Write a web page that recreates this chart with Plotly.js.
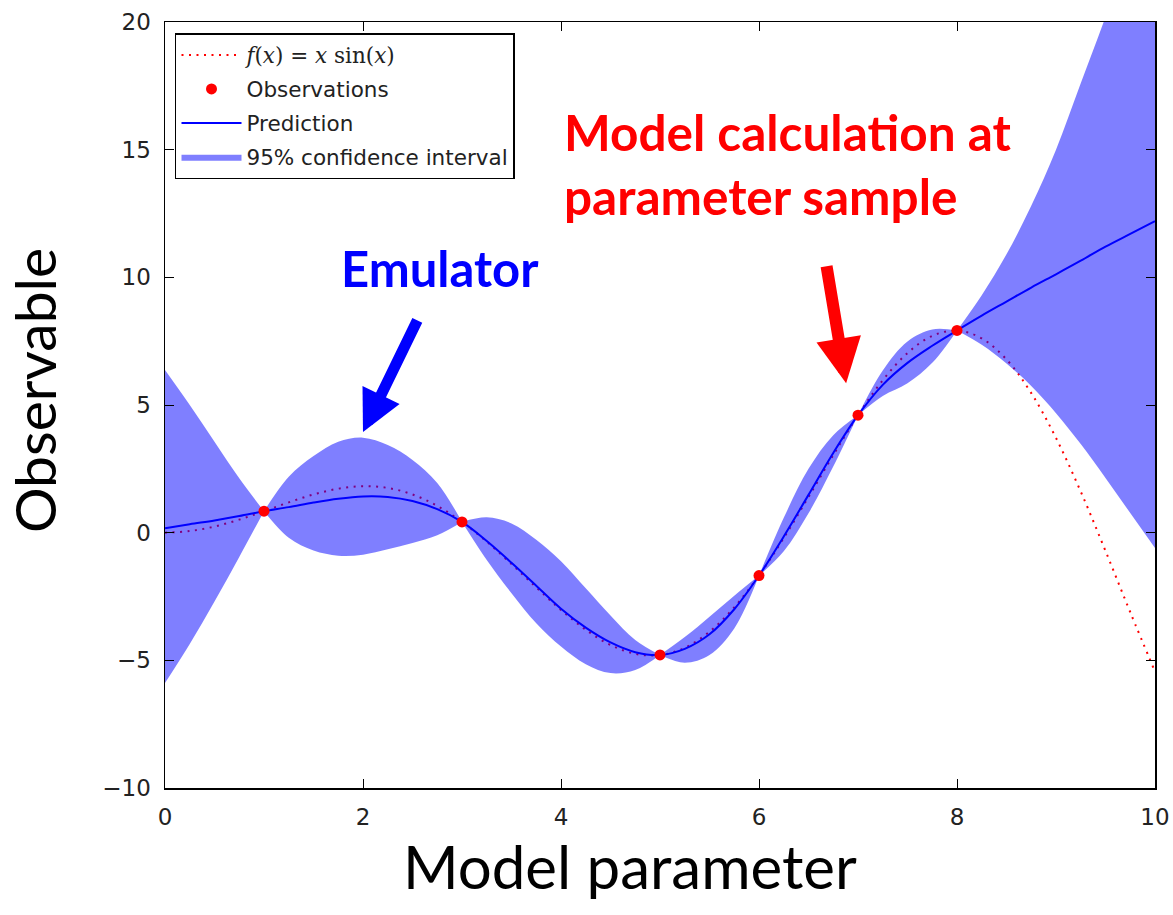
<!DOCTYPE html>
<html>
<head>
<meta charset="utf-8">
<script src="https://cdn.plot.ly/plotly-3.0.1.min.js"></script>
<style>html,body{margin:0;padding:0;background:#fff;}#chart{width:1173px;height:915px;}</style>
</head>
<body>
<div id="chart"></div>
<script>
// ---- data ----
const xGrid = [0,0.25,0.5,0.75,1,1.25,1.5,1.75,2,2.25,2.5,2.75,3,3.25,3.5,3.75,4,4.25,4.5,4.75,5,5.25,5.5,5.75,6,6.25,6.5,6.75,7,7.25,7.5,7.75,8,8.25,8.5,8.75,9,9.25,9.5,9.75,10];
const trueF = [0,0.062,0.24,0.511,0.841,1.186,1.496,1.722,1.819,1.751,1.496,1.05,0.423,-0.352,-1.228,-2.143,-3.027,-3.804,-4.399,-4.747,-4.795,-4.509,-3.88,-2.923,-1.676,-0.208,1.398,3.038,4.599,5.969,7.035,7.708,7.915,7.607,6.787,5.466,3.709,1.608,-0.714,-3.115,-5.44];
const prediction = [0.17,0.33,0.48,0.65,0.84,1.0,1.18,1.33,1.42,1.40,1.24,0.92,0.42,-0.33,-1.18,-2.08,-2.98,-3.72,-4.3,-4.68,-4.79,-4.55,-3.98,-3.0,-1.68,-0.15,1.48,3.12,4.6,5.79,6.65,7.32,7.92,8.5,9.05,9.6,10.12,10.65,11.2,11.7,12.2];
const upperCI = [6.37,5.0,3.56,2.13,0.84,2.19,3.0,3.56,3.72,3.43,2.85,1.95,0.42,0.6,0.36,-0.28,-1.12,-2.18,-3.24,-4.2,-4.79,-4.09,-3.29,-2.47,-1.68,0.58,2.5,3.82,4.6,6.35,7.49,7.96,7.92,9.3,10.9,12.8,15.0,17.6,20.2,23.0,25.9];
const lowerCI = [-5.89,-4.36,-2.7,-0.95,0.84,-0.2,-0.7,-0.9,-0.86,-0.65,-0.4,-0.1,0.42,-1.07,-2.37,-3.55,-4.46,-5.15,-5.5,-5.38,-4.79,-5.09,-4.79,-3.75,-1.68,-0.73,0.76,2.59,4.6,5.35,5.85,6.65,7.92,7.36,6.63,5.74,4.68,3.47,2.14,0.77,-0.6];
const obsX = [1,3,5,6,7,8];
const obsY = [0.84,0.42,-4.79,-1.68,4.6,7.92];
const xTicks = [0,2,4,6,8,10];
const yTicks = [-10,-5,0,5,10,15,20];

const traces = [
  {x: xGrid, y: trueF, type: 'scatter', mode: 'lines', name: '<span style="font-family:\'DejaVu Serif\'"><i>f</i>(<i>x</i>) = <i>x</i> sin(<i>x</i>)</span>',
   line: {color: '#ff0000', width: 2, dash: '2px,5.5px', shape: 'spline'}, legendgroup: 'a', legendrank: 1},
  {x: xGrid, y: prediction, type: 'scatter', mode: 'lines', name: 'Prediction',
   line: {color: '#0000ff', width: 2, shape: 'spline'}, legendgroup: 'c', legendrank: 3}
];

// confidence band: split at the observation points so the band pinches sharply there
const breaks = [0].concat(obsX.map(v => xGrid.indexOf(v)), [xGrid.length - 1]);
for (let s = 0; s < breaks.length - 1; s++) {
  const a = breaks[s], b = breaks[s + 1] + 1;
  traces.push({x: xGrid.slice(a, b), y: lowerCI.slice(a, b), type: 'scatter', mode: 'lines',
    showlegend: false, hoverinfo: 'skip', line: {width: 0, shape: 'spline'}, legendgroup: 'd'});
  traces.push({x: xGrid.slice(a, b), y: upperCI.slice(a, b), type: 'scatter', mode: 'lines',
    name: '95% confidence interval', showlegend: s === 0, fill: 'tonexty',
    fillcolor: 'rgba(0,0,255,0.5)', line: {width: 0, shape: 'spline'}, legendgroup: 'd', legendrank: 4});
}

traces.push({x: obsX, y: obsY, type: 'scatter', mode: 'markers', name: 'Observations',
  marker: {color: '#ff0000', size: 11}, legendgroup: 'b', legendrank: 2});

const axisCommon = {
  showline: true, linecolor: '#000', linewidth: 1.5, mirror: 'ticks',
  ticks: 'inside', ticklen: 9, tickwidth: 1, tickcolor: '#000',
  showgrid: false, zeroline: false,
  tickfont: {family: 'DejaVu Sans', size: 23, color: '#222'}
};

const layout = {
  width: 1173, height: 915,
  margin: {l: 165, r: 18, t: 22, b: 127},
  paper_bgcolor: '#fff', plot_bgcolor: '#fff',
  showlegend: true,
  legend: {x: 0.0101, y: 0.9856, xanchor: 'left', yanchor: 'top',
           bordercolor: '#000', borderwidth: 1.5, bgcolor: '#fff',
           font: {family: 'DejaVu Sans', size: 21.5, color: '#222'},
           itemwidth: 60, tracegroupgap: 3, traceorder: 'grouped'},
  xaxis: Object.assign({}, axisCommon, {range: [0, 10], tickvals: xTicks, ticklabelstandoff: 8,
    title: {text: 'Model parameter&nbsp;&nbsp;&nbsp;&nbsp;', font: {family: 'Lato', size: 60, color: '#000'}, standoff: 0}}),
  yaxis: Object.assign({}, axisCommon, {range: [-10, 20], tickvals: yTicks, ticklabelstandoff: 8,
    title: {text: '&nbsp;&nbsp;Observable', font: {family: 'Lato', size: 57, color: '#000'}, standoff: 30}}),
  annotations: [
    {xref: 'paper', yref: 'paper', x: 0.278, y: 0.679, text: '<b>Emulator</b>', showarrow: false,
     font: {family: 'Lato', size: 49, color: '#0000ff'}, xanchor: 'center', yanchor: 'middle'},
    {xref: 'paper', yref: 'paper', x: 0.401, y: 0.815, text: '<b>Model calculation at<br>parameter sample</b>', showarrow: false,
     align: 'left', font: {family: 'Lato', size: 49.5, color: '#ff0000'}, xanchor: 'left', yanchor: 'middle'},
    {xref: 'x', yref: 'y', axref: 'x', ayref: 'y', x: 2.0, y: 3.94, ax: 2.556, ay: 8.37, text: '',
     showarrow: true, arrowhead: 2, arrowsize: 0.75, arrowwidth: 11, arrowcolor: '#0000ff', standoff: 0},
    {xref: 'x', yref: 'y', axref: 'x', ayref: 'y', x: 6.88, y: 5.85, ax: 6.68, ay: 10.49, text: '',
     showarrow: true, arrowhead: 2, arrowsize: 0.75, arrowwidth: 12, arrowcolor: '#ff0000', standoff: 0}
  ]
};

Plotly.newPlot('chart', traces, layout, {displayModeBar: false, staticPlot: true});
</script>
</body>
</html>
